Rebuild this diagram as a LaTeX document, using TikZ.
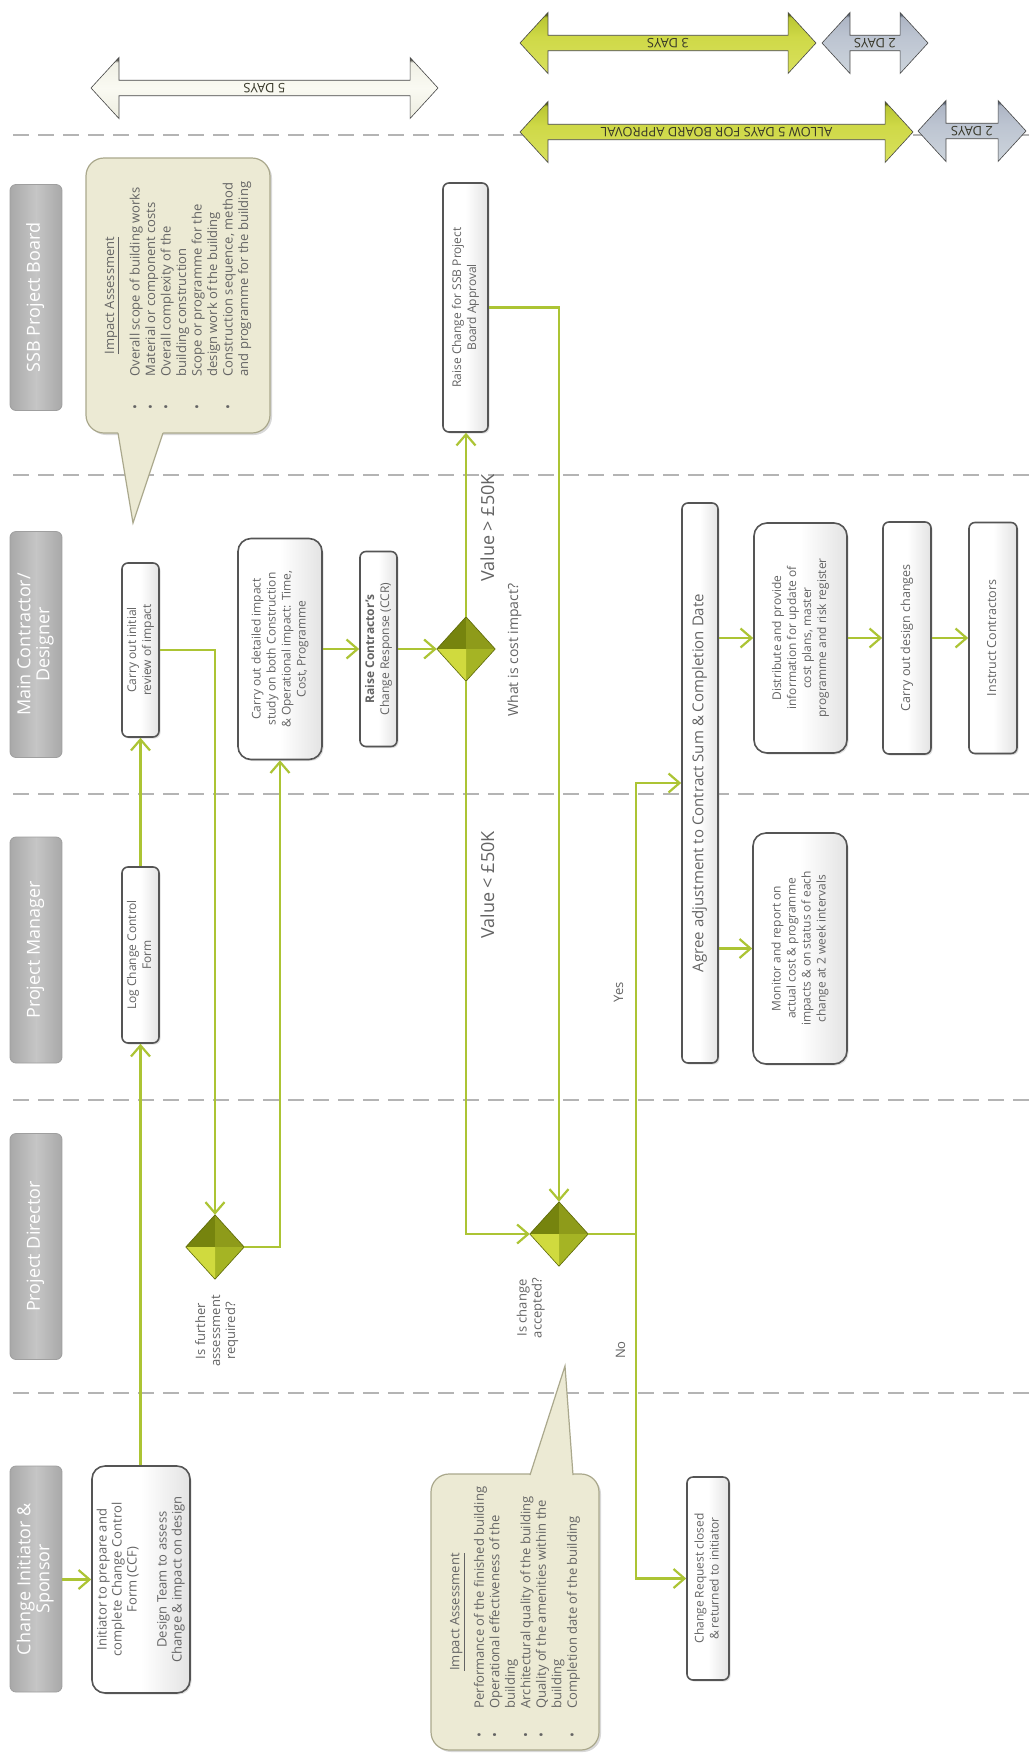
\documentclass[tikz,border=0pt]{standalone}
\usepackage{fontspec}
\setmainfont{Open Sans}
\usepackage{graphicx}
\usetikzlibrary{shapes.geometric,shapes.arrows,arrows.meta,shadows,calc}
\definecolor{lgreen}{RGB}{172,196,52}
\definecolor{txtgray}{RGB}{100,100,100}
\definecolor{boxedge}{RGB}{85,85,85}
\definecolor{cream}{RGB}{236,234,212}
\definecolor{creamedge}{RGB}{170,168,140}
\definecolor{lanesep}{RGB}{180,180,180}
\definecolor{dTL}{RGB}{118,132,14}
\definecolor{dTR}{RGB}{142,155,26}
\definecolor{dBL}{RGB}{208,218,62}
\definecolor{dBR}{RGB}{165,180,36}
\pgfdeclareverticalshading{wsh}{100bp}{
  rgb(0bp)=(0.84,0.84,0.79); rgb(24bp)=(0.80,0.80,0.74); rgb(26bp)=(0.93,0.93,0.88);
  rgb(50bp)=(0.98,0.98,0.95); rgb(71bp)=(0.94,0.94,0.90); rgb(73bp)=(0.38,0.38,0.35);
  rgb(77bp)=(0.38,0.38,0.35); rgb(79bp)=(0.92,0.92,0.88); rgb(100bp)=(0.96,0.96,0.93)}
\pgfdeclareverticalshading{gsh}{100bp}{
  rgb(0bp)=(0.63,0.69,0.16); rgb(24bp)=(0.60,0.66,0.12); rgb(26bp)=(0.85,0.88,0.36);
  rgb(55bp)=(0.81,0.85,0.28); rgb(71bp)=(0.73,0.78,0.20); rgb(73bp)=(0.38,0.42,0.06);
  rgb(77bp)=(0.38,0.42,0.06); rgb(79bp)=(0.76,0.81,0.24); rgb(100bp)=(0.71,0.77,0.20)}
\pgfdeclareverticalshading{bsh}{100bp}{
  rgb(0bp)=(0.60,0.64,0.70); rgb(24bp)=(0.58,0.62,0.68); rgb(26bp)=(0.80,0.83,0.86);
  rgb(55bp)=(0.74,0.77,0.82); rgb(71bp)=(0.68,0.71,0.77); rgb(73bp)=(0.36,0.40,0.46);
  rgb(77bp)=(0.36,0.40,0.46); rgb(79bp)=(0.74,0.77,0.82); rgb(100bp)=(0.68,0.71,0.77)}
\newcommand\fs[2]{\fontsize{#1}{#2}\selectfont}
\newcommand\rtx[1]{\rotatebox{90}{\begin{tabular}{@{}c@{}}#1\end{tabular}}}
\begin{document}
\begin{tikzpicture}[x=1pt,y=-1pt,
  box/.style={draw=boxedge, line width=1.6pt, rounded corners=6pt, left color=white, right color=gray!22, middle color=white,
    inner sep=0pt, text=txtgray, font=\fs{12}{15}, align=center,
    drop shadow={shadow xshift=1.5pt, shadow yshift=-1.5pt, opacity=0.25}},
  bigbox/.style={box, rounded corners=13pt},
  hdr/.style={rounded corners=6pt, minimum width=52pt, minimum height=226pt, inner sep=0pt, text=white,
    font=\fs{18}{19}, left color=gray!68, right color=gray!68, middle color=gray!45, draw=gray!75, line width=0.8pt},
  dmd/.style={diamond, minimum width=58pt, minimum height=64pt, inner sep=0pt, fill=dTR},
  conn/.style={draw=lgreen, line width=2.2pt, -{Straight Barb[length=11pt,width=19pt,line width=2.2pt]}},
  plain/.style={draw=lgreen, line width=2.2pt},
  lbl/.style={text=txtgray, inner sep=0pt, align=center},
  sepline/.style={draw=lanesep, line width=2.6pt, dash pattern=on 16pt off 9pt},
  callout/.style={fill=cream, draw=creamedge, line width=1.2pt, rounded corners=18pt, inner sep=0pt,
    text=txtgray, font=\fs{13}{15.5}, drop shadow={shadow xshift=2pt, shadow yshift=-2pt, opacity=0.3}},
  darr/.style={double arrow, double arrow head extend=15pt, double arrow tip angle=95, inner sep=0pt,
    minimum width=61pt, draw=gray!55!black, line width=0.6pt, font=\fs{13}{14}, text={rgb,255:red,55;green,55;blue,40}},
  green/.style={shading=gsh},
  bluegray/.style={shading=bsh},
  whitish/.style={shading=wsh}
]
\fill[white] (0,0) rectangle (1032,1754);
\useasboundingbox (0,0) rectangle (1032,1754);

% lane separators
\draw[sepline] (13,135) -- (1032,135);
\draw[sepline] (13,475) -- (1032,475);
\draw[sepline] (13,794) -- (1032,794);
\draw[sepline] (13,1100) -- (1032,1100);
\draw[sepline] (13,1393) -- (1032,1393);

% day arrows
\node[darr, whitish, minimum height=347pt] (a5) at (264.5,88) {\rotatebox{180}{5 DAYS}};
\node[darr, green, minimum height=296pt] (a3) at (668,43) {\rotatebox{180}{3 DAYS}};
\node[darr, bluegray, minimum height=106pt] (a2u) at (875,43) {\rotatebox{180}{2 DAYS}};
\node[darr, green, minimum height=393pt] (aal) at (716.5,132) {\rotatebox{180}{ALLOW 5 DAYS FOR BOARD APPROVAL}};
\node[darr, bluegray, minimum height=108pt] (a2l) at (972,131) {\rotatebox{180}{2 DAYS}};

% lane headers
\node[hdr] (hSSB) at (36,297.5) {\rtx{SSB Project Board}};
\node[hdr] (hMC) at (36,644.5) {\rtx{Main Contractor/\\Designer}};
\node[hdr] (hPM) at (36,950) {\rtx{Project Manager}};
\node[hdr] (hPD) at (36,1246.5) {\rtx{Project Director}};
\node[hdr] (hCI) at (36,1579) {\rtx{Change Initiator \&\\Sponsor}};

% callout 1
\node[callout, minimum width=184pt, minimum height=275pt] (c1) at (178,295.5)
  {\rotatebox{90}{\begin{tabular}{@{}c@{\hspace{28pt}}l@{}}
  \multicolumn{2}{c}{\underline{Impact Assessment}}\\[10pt]
  •& Overall scope of building works\\
  •& Material or component costs\\
  •& Overall complexity of the\\
   & building construction\\
  •& Scope or programme for the\\
   & design work of the building\\
  •& Construction sequence, method\\
   & and programme for the building
  \end{tabular}}};
\fill[cream] (118,426) -- (118,433) -- (133,523) -- (163,433) -- (163,426) -- cycle;
\draw[creamedge, line width=1.2pt] (118,433) -- (133,523) -- (163,433);

% callout 2
\node[callout, minimum width=168pt, minimum height=276pt] (c2) at (515,1612)
  {\rotatebox{90}{\begin{tabular}{@{}c@{\hspace{24pt}}l@{}}
  \multicolumn{2}{c}{\underline{Impact Assessment}}\\[9pt]
  •& Performance of the finished building\\
  •& Operational effectiveness of the\\
   & building\\
  •& Architectural quality of the building\\
  •& Quality of the amenities within the\\
   & building\\
  •& Completion date of the building
  \end{tabular}}};
\fill[cream] (530,1482) -- (530,1475) -- (565,1366) -- (573,1475) -- (573,1482) -- cycle;
\draw[creamedge, line width=1.2pt] (530,1475) -- (565,1366) -- (573,1475);

% process boxes
\node[bigbox, font=\fs{13}{15}, minimum width=98pt, minimum height=227pt] (init) at (141,1579.5)
  {\rtx{Initiator to prepare and\\complete Change Control\\Form (CCF)\\ \\Design Team to assess\\Change \& impact on design}};
\node[box, minimum width=37pt, minimum height=176pt] (log) at (140.5,955) {\rtx{Log Change Control\\Form}};
\node[box, minimum width=37pt, minimum height=174pt] (cir) at (140.5,650) {\rtx{Carry out initial\\review of impact}};
\node[bigbox, minimum width=84pt, minimum height=221pt] (det) at (280,649)
  {\rtx{Carry out detailed impact\\study on both Construction\\\& Operational impact: Time,\\Cost, Programme}};
\node[box, minimum width=37pt, minimum height=195pt] (ccr) at (378.5,649) {\rtx{\textbf{Raise Contractor's}\\Change Response (CCR)}};
\node[box, minimum width=45pt, minimum height=249pt] (ssb) at (465.5,307.5) {\rtx{Raise Change for SSB Project\\Board Approval}};
\node[box, font=\fs{15}{17}, minimum width=36pt, minimum height=560pt] (agree) at (700,783)
  {\rtx{Agree adjustment to Contract Sum \& Completion Date}};
\node[bigbox, minimum width=93pt, minimum height=230pt] (dist) at (800.5,638)
  {\rtx{Distribute and provide\\information for update of\\cost plans, master\\programme and risk register}};
\node[bigbox, minimum width=94pt, minimum height=231pt] (mon) at (800,948.5)
  {\rtx{Monitor and report on\\actual cost \& programme\\impacts \& on status of each\\change at 2 week intervals}};
\node[box, font=\fs{12.5}{15}, minimum width=48pt, minimum height=232pt] (cdc) at (907,638) {\rtx{Carry out design changes}};
\node[box, font=\fs{12.5}{15}, minimum width=48pt, minimum height=231pt] (ins) at (993,638) {\rtx{Instruct Contractors}};
\node[box, minimum width=42pt, minimum height=203pt] (crc) at (708,1578.5) {\rtx{Change Request closed\\\& returned to initiator}};

% decision diamonds
\foreach \n/\p in {d1/{(215,1247)}, d2/{(466,649)}, d3/{(559,1234)}}{
  \node[dmd] (\n) at \p {};
  \fill[dTL] (\n.center) -- (\n.west) -- (\n.north) -- cycle;
  \fill[dTR] (\n.center) -- (\n.north) -- (\n.east) -- cycle;
  \fill[dBR] (\n.center) -- (\n.east) -- (\n.south) -- cycle;
  \fill[dBL] (\n.center) -- (\n.south) -- (\n.west) -- cycle;
  \draw[dTL!80!black, line width=0.6pt] (\n.north) -- (\n.east) -- (\n.south) -- (\n.west) -- cycle;
}

% labels
\node[lbl, font=\fs{13}{15}] (q1) at (217,1331) {\rtx{Is further\\assessment\\required?}};
\node[lbl, font=\fs{13}{15}] (q3) at (531,1308) {\rtx{Is change\\accepted?}};
\node[lbl, font=\fs{14}{16}] (q2) at (515,650) {\rtx{What is cost impact?}};
\node[lbl, font=\fs{18}{20}] (vgt) at (490,528) {\rtx{Value > £50K}};
\node[lbl, font=\fs{18}{20}] (vlt) at (490,885) {\rtx{Value < £50K}};
\node[lbl, font=\fs{13}{15}] (yes) at (620,992) {\rtx{Yes}};
\node[lbl, font=\fs{13}{15}] (no) at (622,1350) {\rtx{No}};

% connectors
\coordinate (j) at (636,1234);
\draw[conn] (hCI.east |- init.west) -- (init.west);
\draw[conn] (init.north -| log.south) -- (log.south);
\draw[conn] (log.north) -- (cir.south);
\draw[conn] (cir.east) -| (d1.north);
\draw[conn] (d1.east) -| (det.south);
\draw[conn] (det.east) -- (ccr.west);
\draw[conn] (ccr.east) -- (d2.west);
\draw[conn] (d2.north) -- (d2.north |- ssb.south);
\draw[conn] (ssb.east) -| (d3.north);
\draw[conn] (d2.south) |- (d3.west);
\draw[plain] (d3.east) -- (j);
\draw[conn] (j) |- (agree.west);
\draw[conn] (j) |- (crc.west);
\draw[conn] (agree.east |- dist.west) -- (dist.west);
\draw[conn] (agree.east |- mon.west) -- (mon.west);
\draw[conn] (dist.east) -- (cdc.west);
\draw[conn] (cdc.east) -- (ins.west);
\end{tikzpicture}
\end{document}
